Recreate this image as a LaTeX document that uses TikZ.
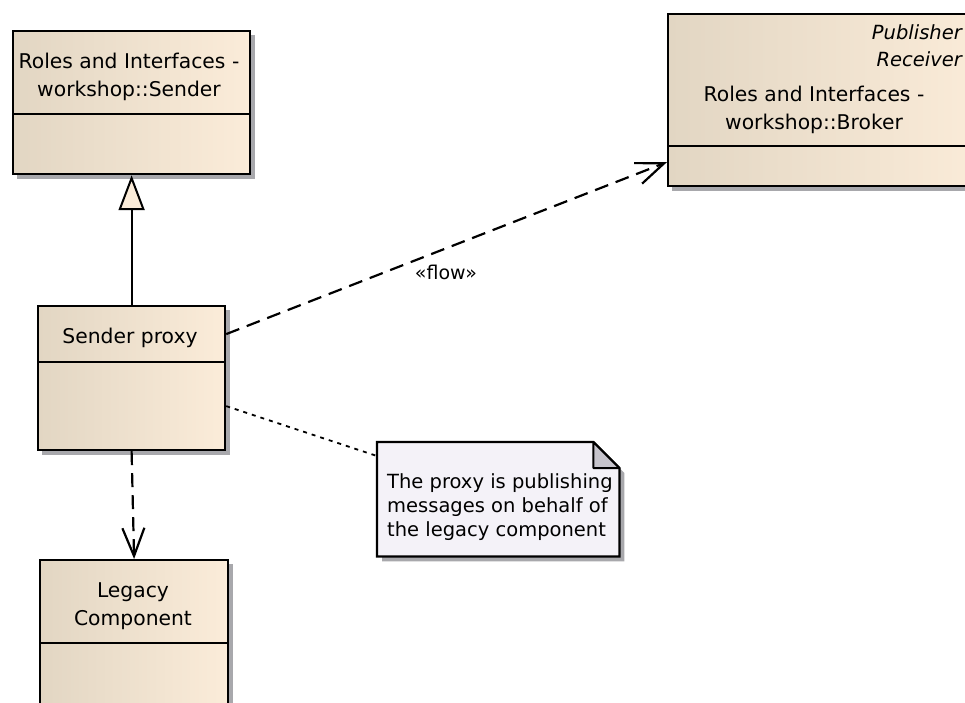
\documentclass[tikz,border=0pt]{standalone}
\usepackage{fontspec}
\setmainfont{DejaVu Sans}
\usetikzlibrary{arrows.meta,calc}
\definecolor{clsL}{RGB}{226,214,195}
\definecolor{clsR}{RGB}{251,236,217}
\definecolor{shd}{RGB}{168,168,172}
\definecolor{notefill}{RGB}{244,242,248}
\definecolor{foldfill}{RGB}{198,196,204}

\tikzset{
  cls/.style={draw=black, line width=2.2pt, left color=clsL, right color=clsR,
    inner sep=0pt, anchor=north west},
  shadowbox/.style={fill=shd},
  txt/.style={font=\fontsize{20.3}{28.5}\selectfont, inner sep=0pt, align=center},
  conn/.style={line width=2.2pt, draw=black},
  depend/.style={conn, dash pattern=on 14pt off 8pt,
    -{Straight Barb[length=28pt,width=22pt,line width=2.2pt]}},
  generalize/.style={conn,
    -{Triangle[open,length=35pt,width=26pt,fill=clsR,line width=2pt]}},
  notelink/.style={conn, line width=1.8pt, dash pattern=on 4pt off 5pt},
}

\begin{document}
\begin{tikzpicture}[x=1pt,y=-1pt]
\useasboundingbox (0,0) rectangle (965,702);
\clip (0,0) rectangle (965,702);
\fill[white] (0,0) rectangle (965,702);

% Sender interface class
\fill[shadowbox] (17,35) rectangle (255,179);
\node[cls, minimum width=237pt, minimum height=83pt] (senderhead) at (12,30) {};
\node[cls, minimum width=237pt, minimum height=60pt] (senderbody) at (12,113) {};
\node[txt] (sendername) at (129,77) {Roles and Interfaces -\\workshop::Sender};

% Broker class (runs past the right edge)
\fill[shadowbox] (672,18) rectangle (1000,191);
\node[cls, minimum width=320pt, minimum height=132pt] (brokerhead) at (667,13) {};
\node[cls, minimum width=320pt, minimum height=40pt] (brokerbody) at (667,145) {};
\node[txt, anchor=north east, align=right, font=\fontsize{19.5}{27}\selectfont\itshape]
  (brokerstereo) at (962,24) {Publisher\\Receiver};
\node[txt] (brokername) at (814,110) {Roles and Interfaces -\\workshop::Broker};

% Sender proxy class
\fill[shadowbox] (42,310) rectangle (230,455);
\node[cls, minimum width=187pt, minimum height=56pt] (proxyhead) at (37,305) {};
\node[cls, minimum width=187pt, minimum height=88pt] (proxybody) at (37,361) {};
\node[txt] (proxyname) at (130,338) {Sender proxy};

% Legacy component class (runs past the bottom edge)
\fill[shadowbox] (44,564) rectangle (233,740);
\node[cls, minimum width=188pt, minimum height=83pt] (legacyhead) at (39,559) {};
\node[cls, minimum width=188pt, minimum height=100pt] (legacybody) at (39,642) {};
\node[txt] (legacyname) at (133,606) {Legacy\\Component};

% Note with folded corner
\node[minimum width=242pt, minimum height=114pt, inner sep=0pt, anchor=north west]
  (note) at (377,442) {};
\fill[shadowbox] ($(note.north west)+(5,5)$) -- ($(note.north east)+(-21,5)$)
  -- ($(note.north east)+(5,31)$) -- ($(note.south east)+(5,5)$)
  -- ($(note.south west)+(5,5)$) -- cycle;
\filldraw[fill=notefill, line width=2.2pt] (note.north west) -- ($(note.north east)+(-26,0)$)
  -- ($(note.north east)+(0,26)$) -- (note.south east) -- (note.south west) -- cycle;
\filldraw[fill=foldfill, line width=2pt, line join=round]
  ($(note.north east)+(-26,0)$) -- ($(note.north east)+(-26,26)$)
  -- ($(note.north east)+(0,26)$) -- cycle;
\node[txt, anchor=west, align=left, font=\fontsize{19.5}{24}\selectfont]
  (notetext) at (387,507)
  {The proxy is publishing\\messages on behalf of\\the legacy component};

% Connectors
\draw[generalize] (proxyhead.north) -- (senderbody.south);
\draw[depend] (proxyhead.east) -- ($(brokerbody.west)+(0,-4)$);
\node[txt, font=\fontsize{19}{21}\selectfont] (flowlabel) at (446,272) {«flow»};
\draw[depend] (proxybody.south) -- (legacyhead.north);
\draw[notelink] (proxybody.east) -- ($(note.north west)+(0,14)$);
\end{tikzpicture}
\end{document}
